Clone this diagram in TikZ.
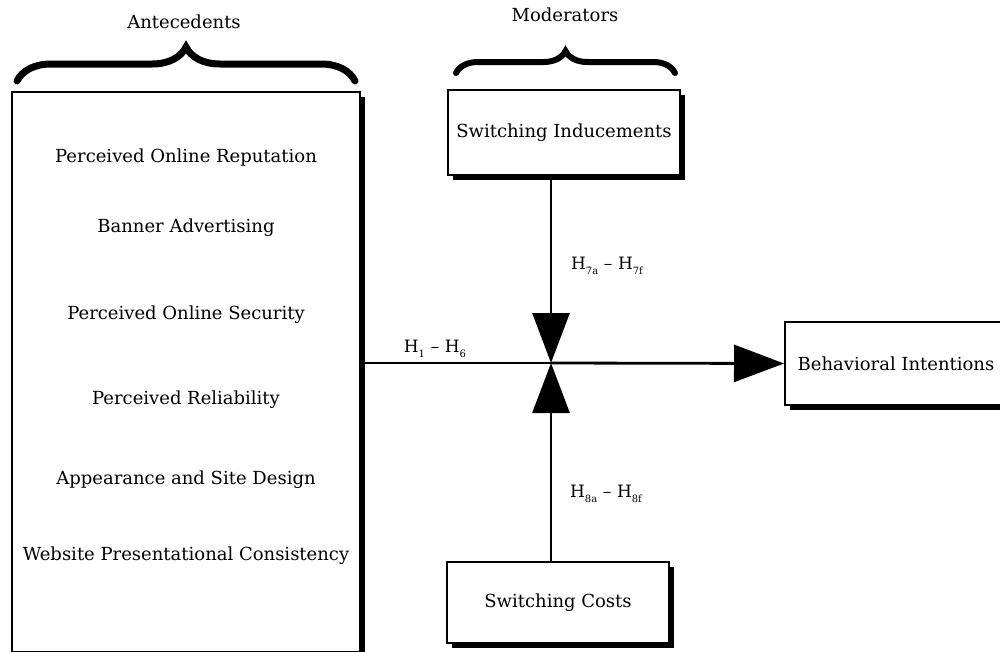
\documentclass[tikz,border=0pt]{standalone}
\usepackage{fontspec}
\setmainfont{DejaVu Serif}
\usetikzlibrary{arrows.meta,shadows,decorations.pathreplacing}
\newcommand{\hsub}[2]{H\raisebox{-5pt}{\fontsize{10}{10}\selectfont #1}\,\,--\,\,H\raisebox{-5pt}{\fontsize{10}{10}\selectfont #2}}
\begin{document}
\begin{tikzpicture}[x=1pt,y=-1pt,
  box/.style={draw=black,line width=2pt,fill=white,inner sep=0pt,
    drop shadow={shadow xshift=5pt,shadow yshift=-5pt,fill=black,opacity=1}},
  lbl/.style={font=\fontsize{18}{21}\selectfont,inner sep=0pt},
  hlbl/.style={font=\fontsize{17}{20}\selectfont,inner sep=0pt},
  link/.style={line width=2.8pt},
  tri/.style={-{Triangle[length=50pt,width=37pt]}},
  bracestyle/.style={line width=7pt,line cap=round,decorate}]
\useasboundingbox (0,0) rectangle (1000,651);
\begin{scope}
\clip (0,0) rectangle (1000,651);
\node[box,minimum width=348pt,minimum height=560pt] (ante) at (186,372) {};
\node[box,minimum width=232pt,minimum height=85pt,lbl] (ind) at (564,132.5) {Switching Inducements};
\node[box,minimum width=222pt,minimum height=81pt,lbl] (cost) at (558,602.5) {Switching Costs};
\node[box,minimum width=222pt,minimum height=83pt,lbl] (bi) at (896,363.5) {Behavioral Intentions};
\end{scope}
\node[lbl] (a1) at (186,158) {Perceived Online Reputation};
\node[lbl] (a2) at (186,228) {Banner Advertising};
\node[lbl] (a3) at (186,315) {Perceived Online Security};
\node[lbl] (a4) at (186,400) {Perceived Reliability};
\node[lbl] (a5) at (186,480) {Appearance and Site Design};
\node[lbl] (a6) at (186,556) {Website Presentational Consistency};
\node[lbl] (tante) at (184,22) {Antecedents};
\node[lbl] (tmod) at (565,15) {Moderators};
\coordinate (J) at (551,363);
\draw[link] (ante.east |- J) -- (J);
\draw[link,tri] (J) -- (bi.west);
\draw[link,tri] (ind.south -| J) -- (J);
\draw[link,tri] (cost.north -| J) -- (J);
\node[hlbl] (h1) at (435,349) {\hsub{1}{6}};
\node[hlbl] (h7) at (607,266) {\hsub{7a}{7f}};
\node[hlbl] (h8) at (606,494) {\hsub{8a}{8f}};
\draw[bracestyle,decoration={brace,amplitude=34pt}] (17,81) -- (355,81);
\draw[bracestyle,decoration={brace,amplitude=22pt},line width=6pt] (456,73) -- (675,73);
\end{tikzpicture}
\end{document}
